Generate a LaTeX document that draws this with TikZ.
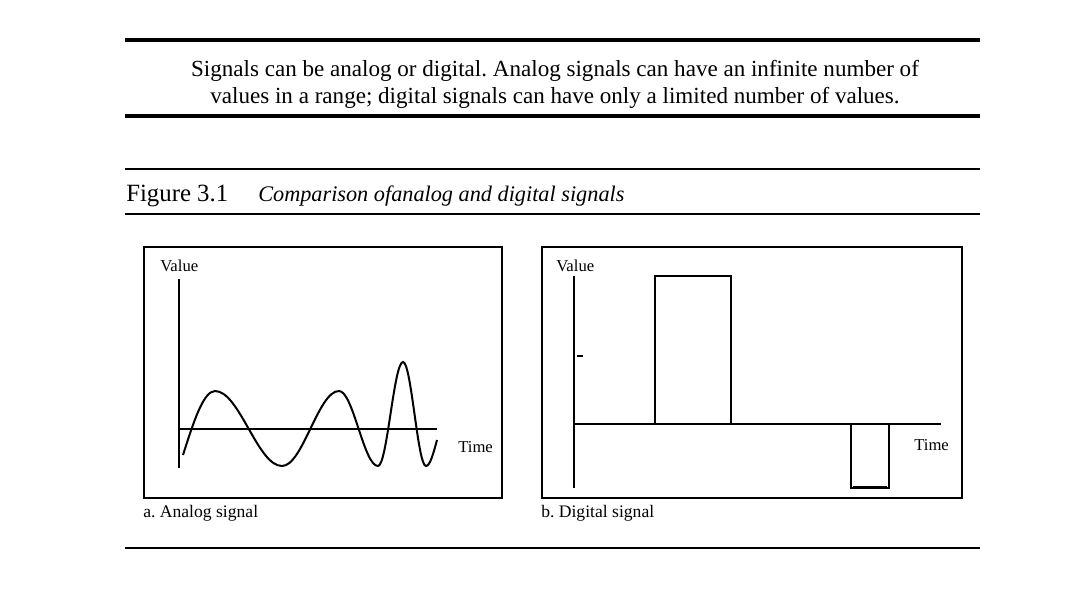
\documentclass[tikz,border=0pt]{standalone}
\usepackage{fontspec}
\setmainfont{Liberation Serif}
\usepackage{tikz}
\frenchspacing

\begin{document}
\begin{tikzpicture}[x=0.75pt,y=-0.75pt,
  thickrule/.style={line width=2.4pt},
  thinrule/.style={line width=0.8pt},
  panel/.style={line width=1.1pt},
  axis/.style={line width=1.1pt},
  wave/.style={line width=1.5pt},
  lbl/.style={inner sep=0pt,font=\fontsize{12.5}{14}\selectfont},
  sub/.style={inner sep=0pt,font=\fontsize{13.2}{15}\selectfont}]
\useasboundingbox (0,0) rectangle (1067,600);
{
% top statement
\draw[thickrule] (125,40) -- (980,40);
\node[align=center,font=\fontsize{17.3}{20.3}\selectfont] (stmt) at (555,84)
  {Signals can be analog or digital. Analog signals can have an infinite number of\\
   values in a range; digital signals can have only a limited number of values.};
\draw[thickrule] (125,116) -- (980,116);
% caption
\draw[thinrule] (125,169) -- (980,169);
\node[anchor=base west,inner sep=0pt,font=\fontsize{18.6}{20}\selectfont] (fig) at (126,201) {Figure 3.1};
\node[anchor=base west,inner sep=0pt,font=\fontsize{16.7}{20}\selectfont\itshape] (cap) at (258,201) {Comparison ofanalog and digital signals};
\draw[thinrule] (125,214) -- (980,214);
% panel a
\draw[panel] (144,247) rectangle (502,498);
\coordinate (atop) at (179,279);
\coordinate (aorg) at (179,429);
\coordinate (abot) at (179,468);
\coordinate (aend) at (437,429);
\draw[axis] (atop) -- (abot);
\draw[axis] (aorg) -- (aend);
\node[lbl,anchor=base west] (aval) at (160,271) {Value};
\node[lbl,anchor=base west] (atime) at (458,452) {Time};
\node[sub,anchor=base west] (acap) at (143,517) {a. Analog signal};
\draw[wave] (183,455) sin (215,391) cos (248.5,428.5) sin (282,466)
  cos (310.5,428.5) sin (339,391) cos (358.5,428.5) sin (378,466)
  cos (390.5,414) sin (403,362) cos (414.5,414) sin (426,466)
  cos (437,440);
% panel b
\draw[panel] (542,247) rectangle (962,498);
\coordinate (btop) at (574,276);
\coordinate (borg) at (574,424);
\coordinate (bbot) at (574,488);
\coordinate (bend) at (941,424);
\draw[axis] (btop) -- (bbot);
\draw[axis] (borg) -- (bend);
\draw[axis] (655,424) -- (655,276) -- (731,276) -- (731,424);
\draw[axis] (851,424) -- (851,488) -- (889,488) -- (889,424);
\draw[line width=1.8pt] (853,487) -- (887,487);
\draw[line width=1.8pt] (577,356) -- (583,356);
\node[lbl,anchor=base west] (bval) at (556,271) {Value};
\node[lbl,anchor=base west] (btime) at (914,450) {Time};
\node[sub,anchor=base west] (bcap) at (541,517) {b. Digital signal};
% bottom rule
\draw[thinrule] (125,548) -- (980,548);
}
\end{tikzpicture}
\end{document}
